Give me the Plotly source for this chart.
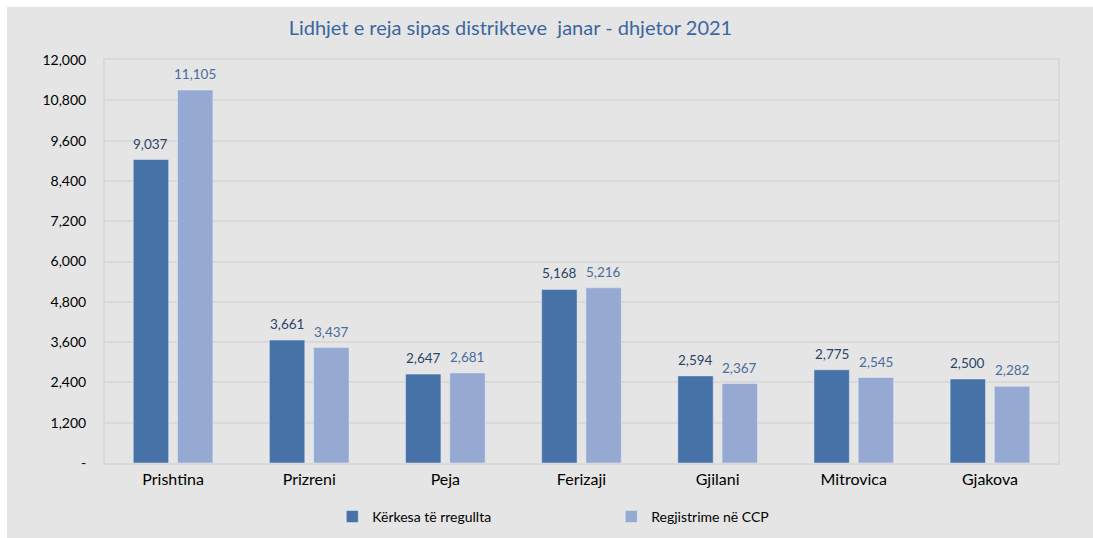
import plotly.graph_objects as go

districts = ["Prishtina", "Prizreni", "Peja", "Ferizaji", "Gjilani", "Mitrovica", "Gjakova"]
kerkesa = [9037, 3661, 2647, 5168, 2594, 2775, 2500]
regjistrime = [11105, 3437, 2681, 5216, 2367, 2545, 2282]
tick_vals = [0, 1200, 2400, 3600, 4800, 6000, 7200, 8400, 9600, 10800, 12000]
tick_text = ["-", "1,200", "2,400", "3,600", "4,800", "6,000", "7,200", "8,400", "9,600", "10,800", "12,000"]

FONT = "Lato, Open Sans, sans-serif"
BARGAP = 0.35
DARK_LABEL = "#2c4466"
LIGHT_LABEL = "#4a6c9e"

fig = go.Figure()
fig.add_trace(go.Bar(name="Kërkesa të rregullta", x=districts, y=kerkesa,
                     marker=dict(color="#4672a8")))
fig.add_trace(go.Bar(name="Regjistrime në CCP", x=districts, y=regjistrime,
                     marker=dict(color="#95a9d2")))

# value labels above each bar; category axis positions are indices, bar centres
# sit a quarter of the occupied group width either side of the category
offset = (1 - BARGAP) / 4
annotations = []
for i, (a, b) in enumerate(zip(kerkesa, regjistrime)):
    annotations.append(dict(x=i - offset, y=a, xref="x", yref="y", text=f"{a:,}",
                            showarrow=False, yanchor="bottom", yshift=6,
                            font=dict(family=FONT, size=13.5, color=DARK_LABEL)))
    annotations.append(dict(x=i + offset, y=b, xref="x", yref="y", text=f"{b:,}",
                            showarrow=False, yanchor="bottom", yshift=6,
                            font=dict(family=FONT, size=13.5, color=LIGHT_LABEL)))

fig.update_layout(
    width=1093, height=538,
    margin=dict(l=105, r=35, t=60, b=75, autoexpand=False),
    paper_bgcolor="white",
    plot_bgcolor="#f7f7f7",
    barmode="group", bargap=BARGAP, bargroupgap=0.2,
    title=dict(text="Lidhjet e reja sipas distrikteve  janar - dhjetor 2021",
               x=0.467, xanchor="center", y=0.948, yanchor="middle",
               font=dict(family=FONT, size=20, color="#3d66a0")),
    font=dict(family=FONT, color="#000000"),
    legend=dict(orientation="h", xref="container", yref="container",
                x=0.304, xanchor="left", y=0.069, yanchor="top",
                font=dict(family=FONT, size=14, color="#000000"),
                itemwidth=30, entrywidth=234, bgcolor="rgba(0,0,0,0)"),
    annotations=annotations,
    shapes=[dict(type="rect", xref="paper", yref="paper", layer="below",
                 x0=(7 - 105) / 953, x1=(1093 - 105) / 953,
                 y0=(463 - 540) / 403, y1=(463 - 7) / 403,
                 fillcolor="#e5e5e5", line=dict(width=0))],
)
fig.update_xaxes(showline=True, linecolor="#d9d9d9", linewidth=2, mirror=True,
                 tickfont=dict(family=FONT, size=16, color="#000000"), ticks="",
                 ticklabelstandoff=1)
fig.update_yaxes(range=[0, 12000], tickvals=tick_vals, ticktext=tick_text,
                 showgrid=True, gridcolor="#d9d9d9", gridwidth=1.5,
                 showline=True, linecolor="#d9d9d9", linewidth=2, mirror=True,
                 zeroline=False, ticks="",
                 tickfont=dict(family=FONT, size=14, color="#000000"),
                 ticklabelstandoff=14)

fig.write_html("out.html")
